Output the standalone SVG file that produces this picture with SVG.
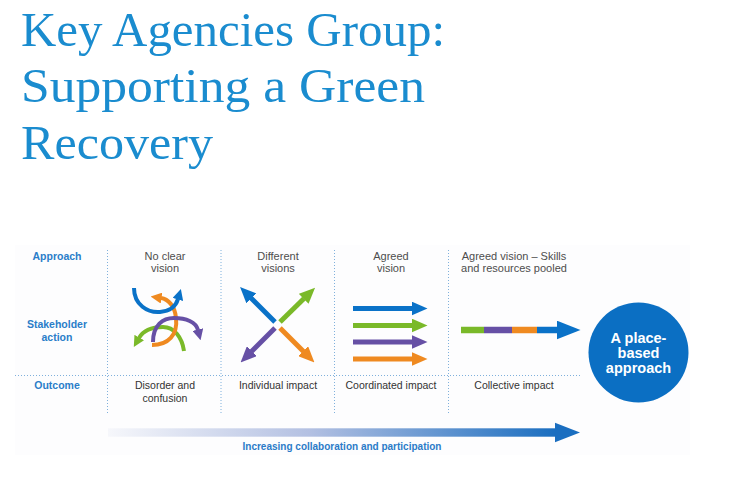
<svg xmlns="http://www.w3.org/2000/svg" width="745" height="477" viewBox="0 0 745 477">
<style>
.title{font-family:"Liberation Serif","Times New Roman",serif;font-size:49px;fill:#1a8ccf}
.row{font-family:"Liberation Sans",Arial,sans-serif;font-size:10.5px;font-weight:bold;fill:#2a7dc9;text-anchor:middle}
.head{font-family:"Liberation Sans",Arial,sans-serif;font-size:11px;fill:#4d4d4d;text-anchor:middle}
.out{font-family:"Liberation Sans",Arial,sans-serif;font-size:10.5px;fill:#333;text-anchor:middle}
.circ{font-family:"Liberation Sans",Arial,sans-serif;font-size:14.5px;font-weight:bold;fill:#fff;text-anchor:middle}
.foot{font-family:"Liberation Sans",Arial,sans-serif;font-size:10px;font-weight:bold;fill:#2b7bc8;text-anchor:middle}
.grid{stroke:#7fb0dc;stroke-width:1;stroke-dasharray:1 2;fill:none}
.b{stroke:#0a72c8}.g{stroke:#7ab929}.p{stroke:#6650a5}.o{stroke:#ef8a21}
.st{fill:none;stroke-width:5}
.cv{fill:none;stroke-width:4}
</style>
<defs>
<marker id="hb" markerUnits="userSpaceOnUse" markerWidth="16" markerHeight="14" refX="0.5" refY="7" orient="auto"><path d="M0,0 L16,7 L0,14 z" fill="#0a72c8"/></marker>
<marker id="hg" markerUnits="userSpaceOnUse" markerWidth="16" markerHeight="14" refX="0.5" refY="7" orient="auto"><path d="M0,0 L16,7 L0,14 z" fill="#7ab929"/></marker>
<marker id="hp" markerUnits="userSpaceOnUse" markerWidth="16" markerHeight="14" refX="0.5" refY="7" orient="auto"><path d="M0,0 L16,7 L0,14 z" fill="#6650a5"/></marker>
<marker id="ho" markerUnits="userSpaceOnUse" markerWidth="16" markerHeight="14" refX="0.5" refY="7" orient="auto"><path d="M0,0 L16,7 L0,14 z" fill="#ef8a21"/></marker>
<marker id="sb" markerUnits="userSpaceOnUse" markerWidth="11" markerHeight="11" refX="0.5" refY="5.5" orient="auto"><path d="M0,0 L11,5.5 L0,11 z" fill="#0a72c8"/></marker>
<marker id="sg" markerUnits="userSpaceOnUse" markerWidth="11" markerHeight="11" refX="0.5" refY="5.5" orient="auto"><path d="M0,0 L11,5.5 L0,11 z" fill="#7ab929"/></marker>
<marker id="sp" markerUnits="userSpaceOnUse" markerWidth="11" markerHeight="11" refX="0.5" refY="5.5" orient="auto"><path d="M0,0 L11,5.5 L0,11 z" fill="#6650a5"/></marker>
<marker id="so" markerUnits="userSpaceOnUse" markerWidth="11" markerHeight="11" refX="0.5" refY="5.5" orient="auto"><path d="M0,0 L11,5.5 L0,11 z" fill="#ef8a21"/></marker>
<marker id="pb" markerUnits="userSpaceOnUse" markerWidth="24" markerHeight="19" refX="0.5" refY="9.5" orient="auto"><path d="M0,0 L24,9.5 L0,19 z" fill="#0a72c8"/></marker>
<linearGradient id="grad" x1="0" y1="0" x2="1" y2="0">
<stop offset="0" stop-color="#f6f7fb"/>
<stop offset="0.45" stop-color="#b3c0e2"/>
<stop offset="1" stop-color="#1a6ec0"/>
</linearGradient>
</defs>
<rect width="745" height="477" fill="#fff"/>

<g id="title">
<text class="title" x="21" y="46" textLength="424" lengthAdjust="spacingAndGlyphs">Key Agencies Group:</text>
<text class="title" x="21" y="102" textLength="404" lengthAdjust="spacingAndGlyphs">Supporting a Green</text>
<text class="title" x="21" y="159" textLength="192" lengthAdjust="spacingAndGlyphs">Recovery</text>
</g>

<rect x="15" y="245" width="675" height="210" fill="#fdfdfe"/>

<g id="grid">
<line class="grid" x1="15" y1="375.5" x2="580" y2="375.5"/>
<line class="grid" x1="107.5" y1="250" x2="107.5" y2="413"/>
<line class="grid" x1="221" y1="250" x2="221" y2="413"/>
<line class="grid" x1="334.5" y1="250" x2="334.5" y2="413"/>
<line class="grid" x1="448.5" y1="250" x2="448.5" y2="413"/>
</g>

<g id="row-labels">
<text class="row" x="57" y="259.5">Approach</text>
<text class="row" x="57" y="328">Stakeholder</text>
<text class="row" x="57" y="341">action</text>
<text class="row" x="57" y="389">Outcome</text>
</g>

<g id="col-no-clear">
<text class="head" x="165" y="259.5">No clear</text>
<text class="head" x="165" y="272">vision</text>
<text class="out" x="165" y="389">Disorder and</text>
<text class="out" x="165" y="401.5">confusion</text>
</g>
<g id="col-different">
<text class="head" x="278" y="259.5">Different</text>
<text class="head" x="278" y="272">visions</text>
<text class="out" x="278" y="389">Individual impact</text>
</g>
<g id="col-agreed">
<text class="head" x="391" y="259.5">Agreed</text>
<text class="head" x="391" y="272">vision</text>
<text class="out" x="391" y="389">Coordinated impact</text>
</g>
<g id="col-pooled">
<text class="head" x="514" y="259.5">Agreed vision – Skills</text>
<text class="head" x="514" y="272">and resources pooled</text>
<text class="out" x="514" y="389">Collective impact</text>
</g>

<g id="connectors">
<path class="cv g" d="M184,351 C182,337 174,327 163,327 C152,327 143,331 139,338" marker-end="url(#sg)"/>
<path class="cv o" d="M152,345 C168,345 178,335 176,318 C175,306 168,299 161,298" marker-end="url(#so)"/>
<path class="cv b" d="M134,288 C134,305 148,313 160,312 C170,311 176,306 178,299" marker-end="url(#sb)"/>
<path class="cv p" d="M153,342 C153,325 163,318 174,318 C186,318 196,322 198,330" marker-end="url(#sp)"/>
<path class="st b" d="M275,322 L251,298" marker-end="url(#hb)"/>
<path class="st g" d="M280,322 L304,298.5" marker-end="url(#hg)"/>
<path class="st p" d="M275,328 L251.5,351.5" marker-end="url(#hp)"/>
<path class="st o" d="M280,328 L303.5,351.5" marker-end="url(#ho)"/>
<path class="st b" d="M353,308.5 L412,308.5" marker-end="url(#hb)"/>
<path class="st g" d="M353,325.5 L412,325.5" marker-end="url(#hg)"/>
<path class="st p" d="M353,342 L412,342" marker-end="url(#hp)"/>
<path class="st o" d="M353,359 L412,359" marker-end="url(#ho)"/>
<line x1="461" y1="330" x2="484" y2="330" stroke="#7ab929" stroke-width="6.5"/>
<line x1="484" y1="330" x2="512" y2="330" stroke="#6650a5" stroke-width="6.5"/>
<line x1="512" y1="330" x2="537" y2="330" stroke="#ef8a21" stroke-width="6.5"/>
<line x1="537" y1="330" x2="557" y2="330" stroke="#0a72c8" stroke-width="6.5" marker-end="url(#pb)"/>
<rect x="108" y="428.3" width="448" height="8.4" fill="url(#grad)"/>
<path d="M555,422.7 L580,432.5 L555,442.3 z" fill="#1a6ec0"/>
</g>

<g id="place-based">
<circle cx="638.5" cy="352.5" r="50" fill="#0b6fc3"/>
<text class="circ" x="638.5" y="342.5">A place-</text>
<text class="circ" x="638.5" y="357.5">based</text>
<text class="circ" x="638.5" y="372.5">approach</text>
</g>

<g id="footer">
<text class="foot" x="342" y="449.5">Increasing collaboration and participation</text>
</g>
</svg>
